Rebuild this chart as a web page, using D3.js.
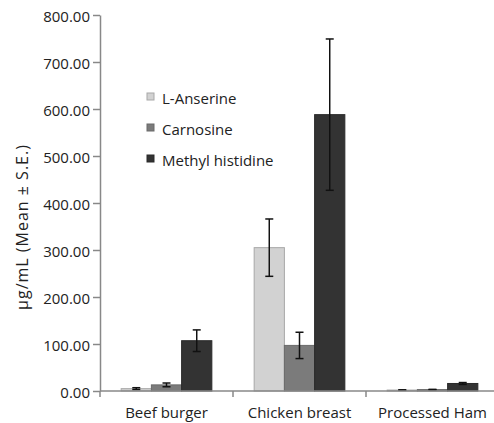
<!DOCTYPE html>
<html lang="en">
<head>
    <meta charset="UTF-8">
    <title>Histidine dipeptides</title>
    <style>
        body{
            margin:0;
            background:#fff;
        }
        text{
            font-family:"Open Sans", sans-serif;
            fill:#222;
        }
    </style>
    <script src="https://cdn.jsdelivr.net/npm/d3@7/dist/d3.min.js"></script>
</head>
<body>
<div id ='container'>
</div>
</body>
<script>
    // values
    var categories = ['Beef burger', 'Chicken breast', 'Processed Ham'],
        series = ['L-Anserine', 'Carnosine', 'Methyl histidine'],
        colors = ['#d2d2d2', '#7b7b7b', '#333333'],
        strokes = ['#a8a8a8', '#6a6a6a', '#2a2a2a'],
        anserine = [5, 305, 2],
        anserineErr = [2, 61, 0.5],
        carnosine = [13, 97, 3],
        carnosineErr = [4, 28, 0.5],
        methyl = [107, 588, 16],
        methylErr = [23, 161, 2],
        yTicks = [0, 100, 200, 300, 400, 500, 600, 700, 800];

    var w = 494, h = 423,
        pLeft = 100, pRight = 499, pTop = 15, pBottom = 391;

    var means = [anserine, carnosine, methyl],
        errs = [anserineErr, carnosineErr, methylErr];

    var rows = [];
    categories.forEach(function (c, i) {
        series.forEach(function (s, j) {
            rows.push({cat: c, s: s, j: j, v: means[j][i], e: errs[j][i]});
        });
    });

    var x0 = d3.scaleBand().domain(categories).range([pLeft, pRight]),
        x1 = d3.scaleBand().domain(series).range([0, x0.bandwidth()]).paddingInner(0).paddingOuter(0.7),
        y = d3.scaleLinear().domain([0, 800]).range([pBottom, pTop]);

    var svg = d3.select('#container').append('svg').attr('width', w).attr('height', h);

    // bars
    svg.selectAll('rect.bar').data(rows).enter().append('rect')
        .attr('class', 'bar')
        .attr('x', function (d) { return x0(d.cat) + x1(d.s); })
        .attr('y', function (d) { return y(d.v); })
        .attr('width', x1.bandwidth())
        .attr('height', function (d) { return y(0) - y(d.v); })
        .attr('fill', function (d) { return colors[d.j]; })
        .attr('stroke', function (d) { return strokes[d.j]; })
        .attr('stroke-width', 1);

    // error bars
    var eb = svg.selectAll('g.err').data(rows).enter().append('g')
        .attr('class', 'err')
        .attr('transform', function (d) { return 'translate(' + (x0(d.cat) + x1(d.s) + x1.bandwidth() / 2) + ',0)'; });
    eb.append('line')
        .attr('y1', function (d) { return y(d.v + d.e); })
        .attr('y2', function (d) { return y(d.v - d.e); });
    eb.append('line').attr('x1', -4).attr('x2', 4)
        .attr('y1', function (d) { return y(d.v + d.e); })
        .attr('y2', function (d) { return y(d.v + d.e); });
    eb.append('line').attr('x1', -4).attr('x2', 4)
        .attr('y1', function (d) { return y(d.v - d.e); })
        .attr('y2', function (d) { return y(d.v - d.e); });
    eb.selectAll('line').attr('stroke', '#111').attr('stroke-width', 1.5);

    // y axis
    var yAxis = d3.axisLeft(y).tickValues(yTicks).tickFormat(d3.format('.2f'))
        .tickSize(7).tickSizeOuter(0).tickPadding(3);
    var gy = svg.append('g').attr('transform', 'translate(' + pLeft + ',0)').call(yAxis);
    gy.select('.domain').attr('stroke', '#888').attr('stroke-width', 1.5);
    gy.selectAll('.tick line').attr('stroke', '#888').attr('stroke-width', 1.5);
    gy.selectAll('.tick text').attr('font-size', '15px').attr('font-family', '"Open Sans", sans-serif')
        .attr('fill', '#222').attr('dy', '0.45em');

    // x axis: line, ticks between categories, labels centered
    svg.append('line').attr('x1', pLeft).attr('x2', w).attr('y1', y(0)).attr('y2', y(0))
        .attr('stroke', '#888').attr('stroke-width', 1.5);
    var bounds = categories.map(function (c) { return x0(c); }).concat([pRight]);
    svg.selectAll('line.xtick').data(bounds).enter().append('line')
        .attr('class', 'xtick')
        .attr('x1', function (d) { return d; }).attr('x2', function (d) { return d; })
        .attr('y1', y(0)).attr('y2', y(0) + 6)
        .attr('stroke', '#888').attr('stroke-width', 1.5);
    svg.selectAll('text.xlab').data(categories).enter().append('text')
        .attr('class', 'xlab')
        .attr('x', function (d) { return x0(d) + x0.bandwidth() / 2; })
        .attr('y', y(0) + 27)
        .attr('text-anchor', 'middle')
        .attr('font-size', '15px')
        .text(function (d) { return d; });

    // y title
    svg.append('text')
        .attr('transform', 'translate(28,227) rotate(-90)')
        .attr('text-anchor', 'middle')
        .attr('font-size', '16px')
        .attr('letter-spacing', '1px')
        .text('µg/mL (Mean ± S.E.)');

    // legend
    var lg = svg.selectAll('g.legend').data(series).enter().append('g')
        .attr('class', 'legend')
        .attr('transform', function (d, i) { return 'translate(147,' + (93 + i * 31) + ')'; });
    lg.append('rect').attr('width', 7).attr('height', 7)
        .attr('fill', function (d, i) { return colors[i]; })
        .attr('stroke', function (d, i) { return strokes[i]; });
    lg.append('text').attr('x', 15).attr('y', 11).attr('font-size', '15px')
        .text(function (d) { return d; });
</script>
</html>
